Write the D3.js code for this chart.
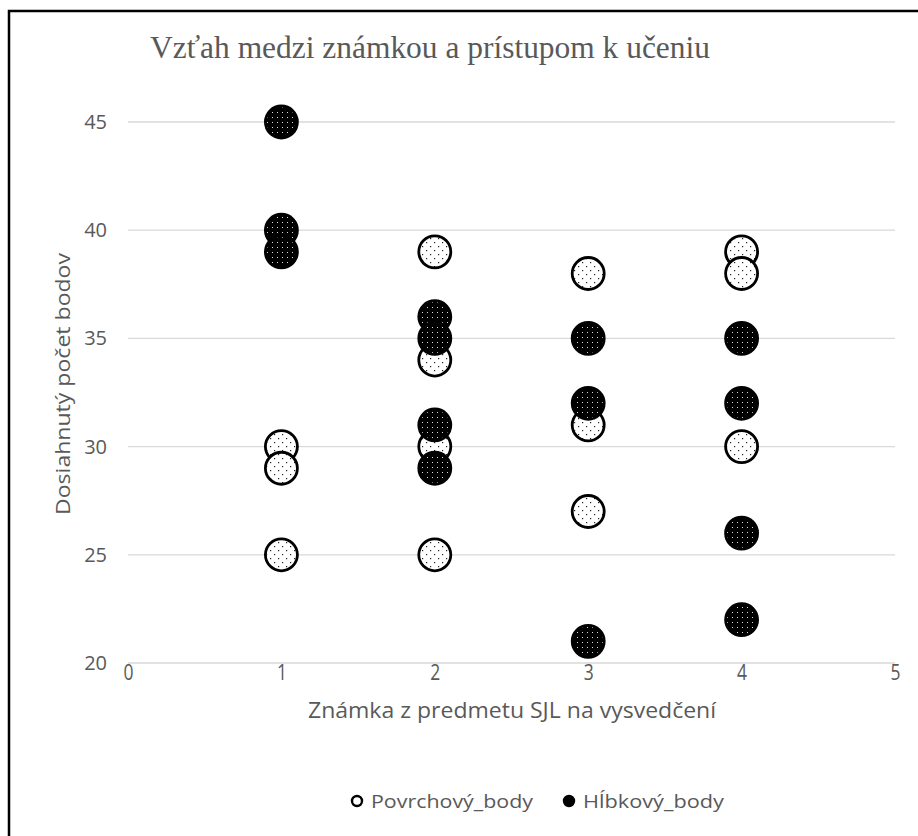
<!DOCTYPE html>
<html>
<head>
<meta charset="utf-8">
<script src="https://cdn.jsdelivr.net/npm/d3@7"></script>
<style>
  body { margin: 0; background: #fff; }
  svg { display: block; }
</style>
</head>
<body>
<div id="chart"></div>
<script>
var w = 918, h = 836;

var title = "Vzťah medzi známkou a prístupom k učeniu";
var xTitle = "Známka z predmetu SJL na vysvedčení";
var yTitle = "Dosiahnutý počet bodov";
var xTicks = [0, 1, 2, 3, 4, 5];
var yTicks = [20, 25, 30, 35, 40, 45];
var seriesNames = ["Povrchový_body", "Hĺbkový_body"];

// Povrchový (open markers)
var povrchX = [1, 1, 1, 2, 2, 2, 2, 3, 3, 3, 4, 4, 4];
var povrchY = [30, 29, 25, 39, 34, 30, 25, 38, 31, 27, 39, 38, 30];
// Hĺbkový (filled markers)
var hlbkX = [1, 1, 1, 2, 2, 2, 2, 3, 3, 3, 4, 4, 4, 4];
var hlbkY = [45, 40, 39, 36, 35, 31, 29, 35, 32, 21, 35, 32, 26, 22];

var grey = "#595959";

var x = d3.scaleLinear().domain([0, 5]).range([128, 895]);
var y = d3.scaleLinear().domain([20, 45]).range([663, 122]);

var svg = d3.select("#chart").append("svg")
    .attr("width", w)
    .attr("height", h);

// dotted fill patterns
var defs = svg.append("defs");
var pOpen = defs.append("pattern")
    .attr("id", "dotsWhite")
    .attr("patternUnits", "userSpaceOnUse")
    .attr("width", 8).attr("height", 8);
pOpen.append("rect").attr("width", 8).attr("height", 8).attr("fill", "#fff");
pOpen.append("rect").attr("x", 2).attr("y", 2).attr("width", 1.2).attr("height", 1.2).attr("fill", "#222");
pOpen.append("rect").attr("x", 6).attr("y", 6).attr("width", 1.2).attr("height", 1.2).attr("fill", "#222");

var pFill = defs.append("pattern")
    .attr("id", "dotsBlack")
    .attr("patternUnits", "userSpaceOnUse")
    .attr("width", 5).attr("height", 5);
pFill.append("rect").attr("width", 5).attr("height", 5).attr("fill", "#000");
pFill.append("rect").attr("x", 2).attr("y", 2).attr("width", 1).attr("height", 1).attr("fill", "#ddd");

// frame
svg.append("rect")
    .attr("x", 9).attr("y", 11)
    .attr("width", w).attr("height", h)
    .attr("fill", "none")
    .attr("stroke", "#000")
    .attr("stroke-width", 2.5);

// title
svg.append("text")
    .attr("x", 150).attr("y", 58)
    .attr("font-family", "Liberation Serif, Times New Roman, serif")
    .attr("font-size", "32px")
    .attr("textLength", 560)
    .attr("lengthAdjust", "spacingAndGlyphs")
    .attr("fill", grey)
    .text(title);

// gridlines
svg.append("g").selectAll("line")
    .data(yTicks)
    .enter()
    .append("line")
    .attr("x1", x(0)).attr("x2", x(5))
    .attr("y1", function(d) { return y(d); })
    .attr("y2", function(d) { return y(d); })
    .attr("stroke", "#d9d9d9")
    .attr("stroke-width", 1.3);

// y axis labels
var yAxis = d3.axisLeft(y).tickValues(yTicks).tickSize(0).tickPadding(21).tickFormat(d3.format("d"));
var gy = svg.append("g").attr("transform", "translate(" + x(0) + ",0)").call(yAxis);
gy.select(".domain").remove();
gy.attr("font-size", null).attr("font-family", null);
gy.selectAll("text")
    .style("font-family", "Open Sans, sans-serif")
    .style("font-size", "20px")
    .attr("fill", grey);

// x axis labels
var xAxis = d3.axisBottom(x).tickValues(xTicks).tickSize(0).tickPadding(1).tickFormat(d3.format("d"));
var gx = svg.append("g").attr("transform", "translate(0," + y(20) + ")").call(xAxis);
gx.select(".domain").remove();
gx.attr("font-size", null).attr("font-family", null);
gx.selectAll("text")
    .style("font-family", "Open Sans, sans-serif")
    .style("font-size", "22px")
    .attr("textLength", 10)
    .attr("lengthAdjust", "spacingAndGlyphs")
    .attr("fill", grey);

// axis titles
svg.append("text")
    .attr("x", 512).attr("y", 718)
    .attr("text-anchor", "middle")
    .attr("font-family", "Open Sans, sans-serif")
    .attr("font-size", "21px")
    .attr("textLength", 408)
    .attr("lengthAdjust", "spacingAndGlyphs")
    .attr("fill", grey)
    .text(xTitle);

svg.append("text")
    .attr("transform", "translate(70,384) rotate(-90)")
    .attr("text-anchor", "middle")
    .attr("font-family", "Open Sans, sans-serif")
    .attr("font-size", "20px")
    .attr("textLength", 262)
    .attr("lengthAdjust", "spacingAndGlyphs")
    .attr("fill", grey)
    .text(yTitle);

// markers
var r = 16;
svg.append("g").selectAll("circle")
    .data(d3.range(povrchX.length))
    .enter()
    .append("circle")
    .attr("cx", function(i) { return x(povrchX[i]); })
    .attr("cy", function(i) { return y(povrchY[i]); })
    .attr("r", r)
    .attr("fill", "url(#dotsWhite)")
    .attr("stroke", "#000")
    .attr("stroke-width", 2.8);

svg.append("g").selectAll("circle")
    .data(d3.range(hlbkX.length))
    .enter()
    .append("circle")
    .attr("cx", function(i) { return x(hlbkX[i]); })
    .attr("cy", function(i) { return y(hlbkY[i]); })
    .attr("r", r)
    .attr("fill", "url(#dotsBlack)")
    .attr("stroke", "#000")
    .attr("stroke-width", 2.8);

// legend
var legend = svg.append("g");
var legX = [357, 569];
var legLen = [162, 141];
seriesNames.forEach(function(name, i) {
    legend.append("circle")
        .attr("cx", legX[i]).attr("cy", 801)
        .attr("r", 5)
        .attr("fill", i == 0 ? "#fff" : "#000")
        .attr("stroke", "#000")
        .attr("stroke-width", 2.4);
    legend.append("text")
        .attr("x", legX[i] + 14).attr("y", 808)
        .attr("font-family", "Open Sans, sans-serif")
        .attr("font-size", "19px")
        .attr("textLength", legLen[i])
        .attr("lengthAdjust", "spacingAndGlyphs")
        .attr("fill", grey)
        .text(name);
});
</script>
</body>
</html>
